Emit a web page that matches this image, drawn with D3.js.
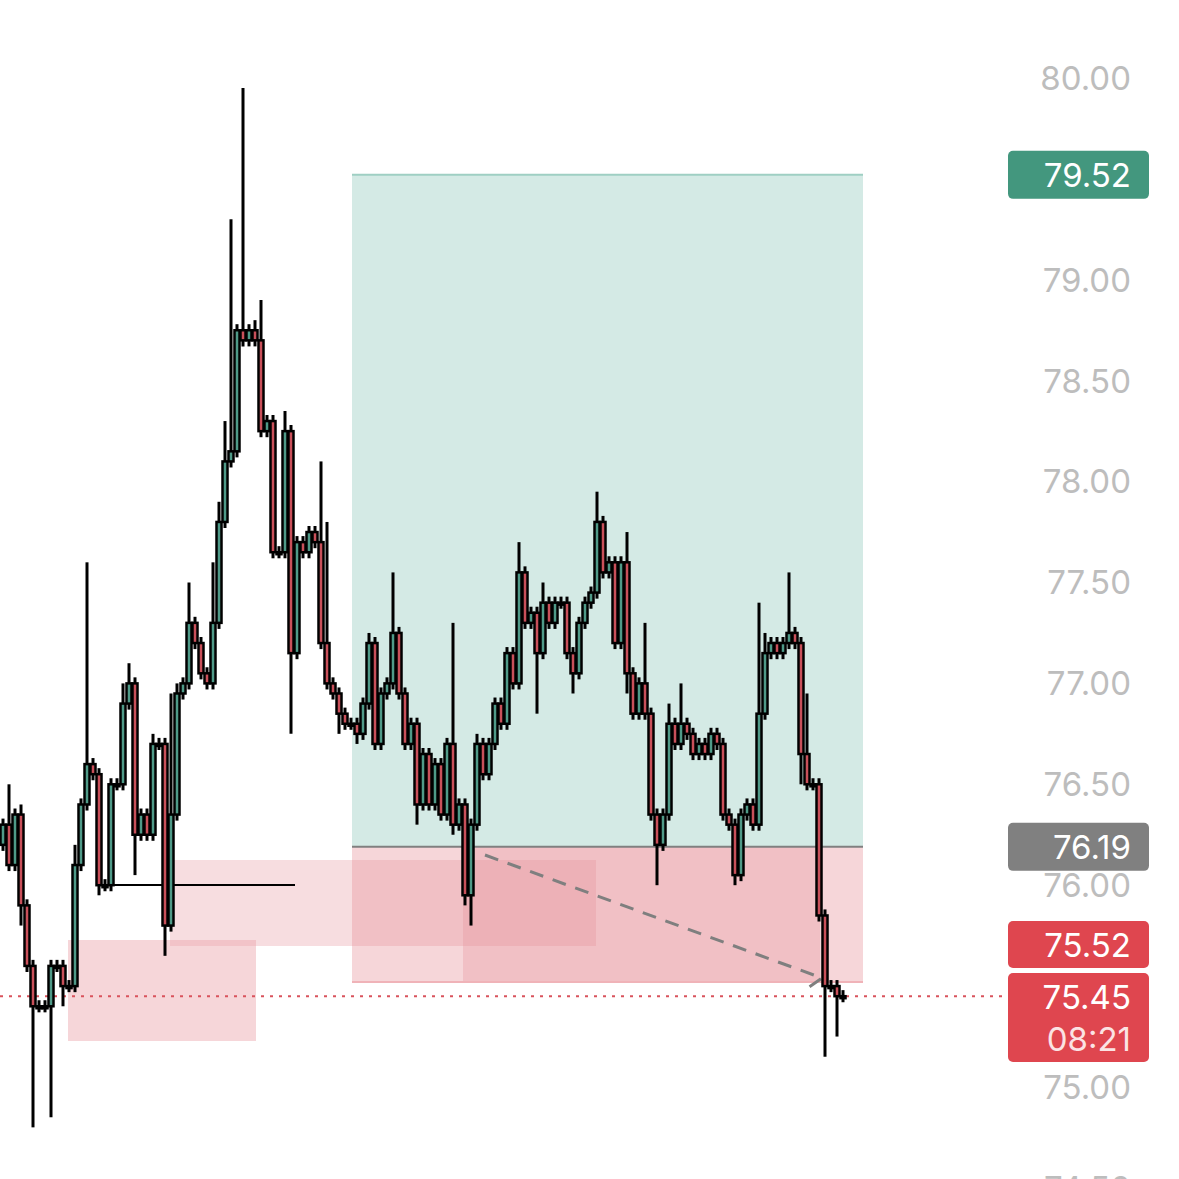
<!DOCTYPE html>
<html><head><meta charset="utf-8">
<script src="https://cdn.jsdelivr.net/npm/d3@7"></script>
<style>body{margin:0;background:#fff}svg{display:block}</style>
</head><body><svg id="c"></svg>
<script>
// closes, open = previous close
const closes = [76.3,76.1,76.35,75.9,75.6,75.4,75.4,75.4,75.6,75.6,75.5,75.5,76.1,76.4,76.6,76.55,76.0,76.0,76.5,76.5,
  76.9,77.0,76.25,76.35,76.25,76.7,76.7,75.8,76.35,76.95,77.0,77.3,77.2,77.05,77.0,77.3,77.8,78.1,78.15,78.75,
  78.7,78.75,78.7,78.25,78.3,77.65,77.65,78.25,77.15,77.7,77.65,77.75,77.7,77.2,77.0,76.95,76.85,76.8,76.8,76.75,
  76.9,77.2,76.7,76.95,77.0,77.25,76.95,76.7,76.8,76.4,76.65,76.4,76.6,76.35,76.7,76.3,76.4,75.95,76.3,76.7,
  76.55,76.7,76.9,76.8,77.15,77.0,77.55,77.3,77.35,77.15,77.4,77.3,77.4,77.4,77.15,77.05,77.3,77.4,77.45,77.8,
  77.55,77.6,77.2,77.6,77.05,76.85,77.0,76.85,76.35,76.2,76.35,76.8,76.7,76.8,76.75,76.65,76.7,76.65,76.75,76.7,
  76.35,76.3,76.05,76.35,76.4,76.3,76.85,77.15,77.2,77.15,77.2,77.25,77.2,76.65,76.5,76.5,75.85,75.5,75.5,75.45,75.45];
const firstOpen = 76.2;
// wick extensions above body top / below body bottom
const wickUp = {1:0.2,3:0.05,12:0.1,14:1.0,20:0.1,21:0.1,25:0.05,28:0.6,29:0.05,31:0.2,35:0.3,36:0.1,37:0.2,38:1.15,
  40:1.2,42:0.05,43:0.2,47:0.1,53:0.4,54:0.6,61:0.05,65:0.3,75:0.6,79:0.05,86:0.15,90:0.1,99:0.15,104:0.15,107:0.3,
  113:0.2,111:0.1,126:0.55,127:0.1,131:0.3,134:0.3};
const wickDn = {3:0.1,5:0.6,8:0.55,10:0.1,16:0.05,22:0.2,27:0.15,48:0.4,56:0.1,59:0.05,69:0.1,75:0.05,77:0.05,78:0.15,
  89:0.3,95:0.1,104:0.1,109:0.2,122:0.05,133:0.15,137:0.35,139:0.2};
const tickVals = [80,79.5,79,78.5,78,77.5,77,76.5,76,75.5,75,74.5];
const tickLabels = ["80.00","79.50","79.00","78.50","78.00","77.50","77.00","76.50","76.00","75.50","75.00","74.50"];
const tpPrice = 79.52, entryPrice = 76.19, stopPrice = 75.52, lastPrice = 75.45, countdown = "08:21";

const W = 1179, H = 1179;
const svg = d3.select("#c").attr("width", W).attr("height", H);
const y = d3.scaleLinear().domain([75, 80]).range([1087, 78]);
const x = d3.scaleBand().domain(d3.range(closes.length)).range([0, 846]).paddingInner(0.0);
const xc = i => x(i) + x.bandwidth() / 2;

const candles = closes.map((c, i) => {
  const o = i ? closes[i - 1] : firstOpen;
  return {i, o, c, h: Math.max(o, c) + (wickUp[i] || 0.03), l: Math.min(o, c) - (wickDn[i] || 0.03)};
});

// zones
const zone = (x0, x1, v0, v1, fill, op) => svg.append("rect").attr("x", x0).attr("width", x1 - x0)
  .attr("y", y(v0)).attr("height", y(v1) - y(v0)).attr("fill", fill).attr("fill-opacity", op);
zone(352, 863, tpPrice, entryPrice, "#a9d6cc", 0.5);
zone(352, 863, entryPrice, stopPrice, "#eba3aa", 0.45);
zone(463, 820, entryPrice, stopPrice, "#e58f98", 0.3);
zone(170, 596, y.invert(860), y.invert(946), "#e58f98", 0.3);
zone(68, 256, y.invert(940), y.invert(1041), "#eba3aa", 0.45);
svg.append("line").attr("x1", 352).attr("x2", 863).attr("y1", y(tpPrice)).attr("y2", y(tpPrice))
  .attr("stroke", "#9fcfc3").attr("stroke-width", 2);
svg.append("line").attr("x1", 352).attr("x2", 863).attr("y1", y(entryPrice)).attr("y2", y(entryPrice))
  .attr("stroke", "#808080").attr("stroke-width", 2);
svg.append("line").attr("x1", 352).attr("x2", 863).attr("y1", y(stopPrice)).attr("y2", y(stopPrice))
  .attr("stroke", "#f0b3b8").attr("stroke-width", 2);

// horizontal level
svg.append("line").attr("x1", 103).attr("x2", 295).attr("y1", 885).attr("y2", 885).attr("stroke", "#000").attr("stroke-width", 2);

// last price dotted
svg.append("line").attr("x1", 0).attr("x2", 1008).attr("y1", y(lastPrice)).attr("y2", y(lastPrice))
  .attr("stroke", "#d9535c").attr("stroke-width", 2).attr("stroke-dasharray", "3,6");

// dashed projection
svg.append("path").attr("d", `M485,855 L822,978 L805,990`).attr("fill", "none")
  .attr("stroke", "#7f7f7f").attr("stroke-width", 3).attr("stroke-dasharray", "14,10");

// candles
const g = svg.append("g");
g.selectAll("line.w").data(candles).enter().append("line")
  .attr("x1", d => xc(d.i)).attr("x2", d => xc(d.i)).attr("y1", d => y(d.h)).attr("y2", d => y(d.l))
  .attr("stroke", "#000").attr("stroke-width", 3);
g.selectAll("rect.b").data(candles).enter().append("rect")
  .attr("x", d => x(d.i) + 0.5).attr("width", x.bandwidth() - 1)
  .attr("y", d => y(Math.max(d.o, d.c))).attr("height", d => Math.max(2, Math.abs(y(d.o) - y(d.c))))
  .attr("fill", d => d.c >= d.o ? "#4f9a88" : "#c9505a").attr("stroke", "#000").attr("stroke-width", 2.5);

// axis labels
svg.selectAll("text.t").data(tickVals).enter().append("text")
  .attr("x", 1131).attr("y", d => y(d)).attr("dy", "0.36em").attr("text-anchor", "end")
  .attr("font-family", "Inter, 'Open Sans', sans-serif").attr("font-size", 33).attr("fill", "#bdbdbd")
  .text((d, i) => tickLabels[i]);

// badges
const badge = (y0, h, fill, lines) => {
  svg.append("rect").attr("x", 1008).attr("y", y0).attr("width", 141).attr("height", h).attr("rx", 5).attr("fill", fill);
  lines.forEach((t, k) => svg.append("text").attr("x", 1131).attr("y", y0 + 24 + k * 42).attr("dy", "0.36em")
    .attr("text-anchor", "end").attr("font-family", "Inter, 'Open Sans', sans-serif").attr("font-size", 33)
    .attr("fill", k ? "#fbe3e4" : "#fff").text(t));
};
badge(y(tpPrice) - 24, 48, "#43977e", [tpPrice.toFixed(2)]);
badge(y(entryPrice) - 24, 48, "#808080", [entryPrice.toFixed(2)]);
badge(921, 47, "#df464f", [stopPrice.toFixed(2)]);
badge(973, 89, "#df464f", [lastPrice.toFixed(2), countdown]);
</script></body></html>
